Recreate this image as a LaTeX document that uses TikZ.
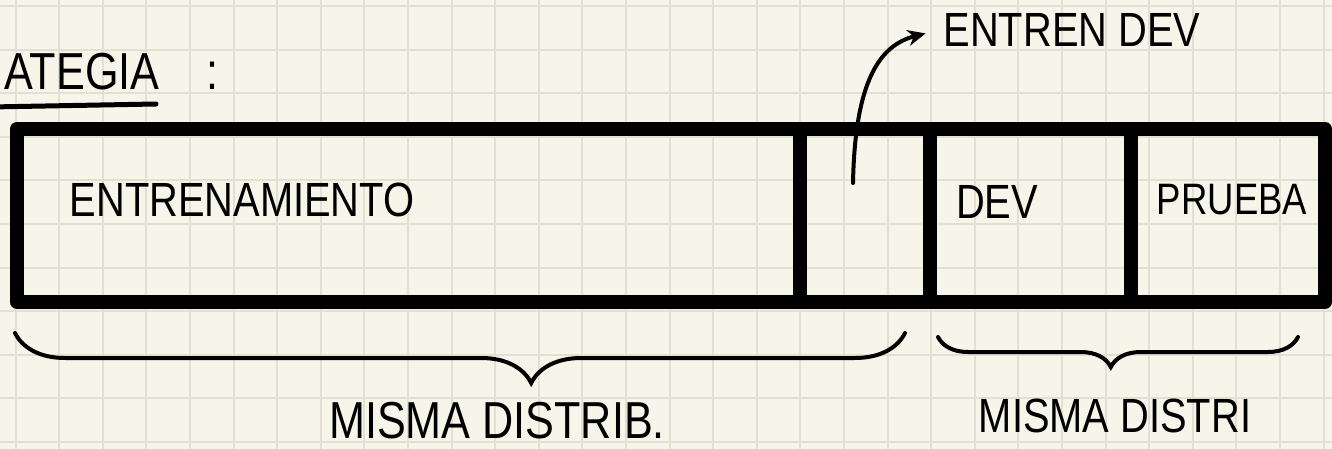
\documentclass[tikz,border=0pt]{standalone}
\usepackage{fontspec}
\setmainfont{Liberation Sans}[FakeStretch=0.83]
\usetikzlibrary{decorations.pathreplacing, arrows.meta, positioning}
\definecolor{paper}{HTML}{F7F5E9}
\definecolor{gridline}{HTML}{E2E0D2}

\begin{document}
\begin{tikzpicture}[x=0.5pt, y=-0.5pt,
        hand/.style={font=\fontsize{24}{28}\selectfont, text=black, inner sep=2pt},
        box/.style={line width=7pt, line join=round},
        brc/.style={line width=2pt, line cap=round, decorate}]
                \useasboundingbox (0,0) rectangle (1332,449);
                \clip (0,0) rectangle (1332,449);
                \fill[paper] (0,0) rectangle (1332,449);
                \foreach \k in {0,...,30} \draw[gridline, line width=1pt] (15.6+43.6*\k,0) -- (15.6+43.6*\k,449);
                \foreach \k in {0,...,10} \draw[gridline, line width=1pt] (0,6+43.6*\k) -- (1332,6+43.6*\k);

                \node[hand, anchor=west, font=\fontsize{26}{30}\selectfont] (strat) at (0,72) {ATEGIA\hspace{0.9em}:};
                \draw[line width=2.5pt, line cap=round] (-10,107) -- (156,104);

                \draw[box] (17,129) rectangle (1325,302);
                \foreach \x in {800,930,1131} \draw[box] (\x,129) -- (\x,302);

                \node[hand] (train) at (242,200) {ENTRENAMIENTO};
                \node[hand] (dev) at (997,202) {DEV};
                \node[hand, font=\fontsize{22}{26}\selectfont] (test) at (1232,200) {PRUEBA};
                \node[hand] (trdev) at (1072,30) {ENTREN DEV};

                \coordinate (trdevcell) at (853,183);
                \draw[line width=2pt, line cap=round, -{Stealth[length=9pt, width=8pt]}, shorten >=7pt] (trdevcell) .. controls (855,80) and (880,45) .. (trdev.west);

                \draw[brc, decoration={brace, mirror, amplitude=25pt, aspect=0.58}] (15,333) -- (905,333);
                \draw[brc, decoration={brace, mirror, amplitude=15pt, aspect=0.48}] (938,337) -- (1298,337);

                \node[hand, font=\fontsize{26}{30}\selectfont] (sameA) at (497,421) {MISMA DISTRIB.};
                \node[hand] (sameB) at (1115,416) {MISMA DISTRI};
            \end{tikzpicture}
\end{document}
